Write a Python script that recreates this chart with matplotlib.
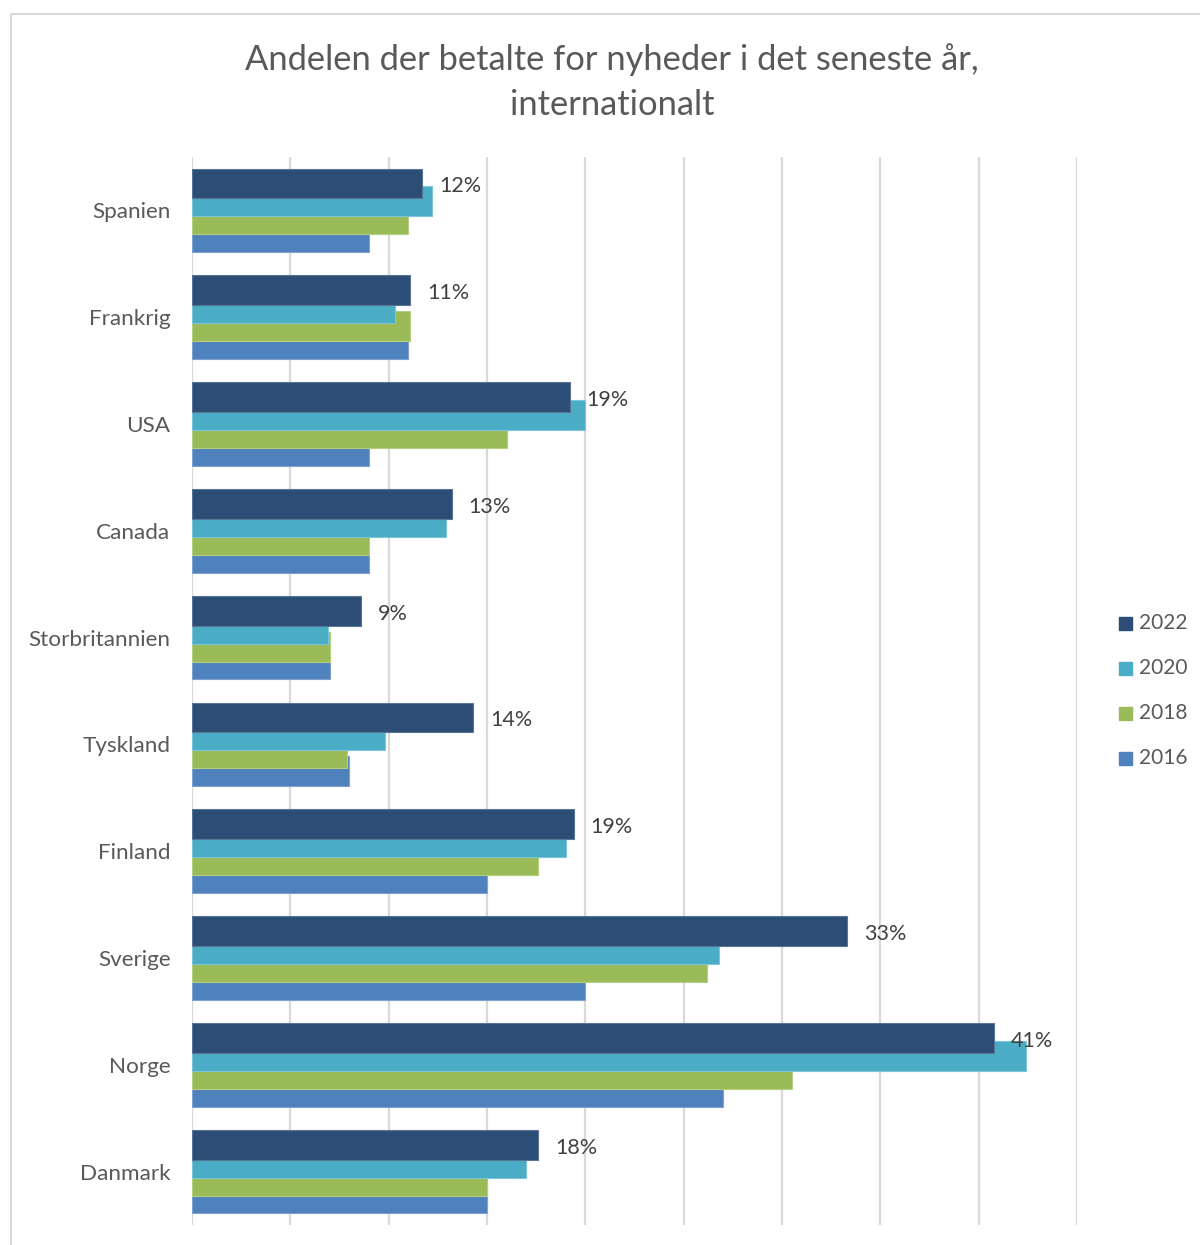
import numpy as np
import matplotlib
matplotlib.use("Agg")
import matplotlib.pyplot as plt
from matplotlib.patches import Rectangle

plt.rcParams['font.family'] = ['Lato', 'DejaVu Sans']

# data (percent), top to bottom
countries = ["Spanien", "Frankrig", "USA", "Canada", "Storbritannien",
             "Tyskland", "Finland", "Sverige", "Norge", "Danmark"]
years = ["2022", "2020", "2018", "2016"]
v2022 = [11.7, 11.1, 19.2, 13.2, 8.6, 14.3, 19.4, 33.3, 40.8, 17.6]
v2020 = [12.2, 10.3, 20.0, 12.9, 6.9, 9.8, 19.0, 26.8, 42.4, 17.0]
v2018 = [11.0, 11.1, 16.0, 9.0, 7.0, 7.9, 17.6, 26.2, 30.5, 15.0]
v2016 = [9.0, 11.0, 9.0, 9.0, 7.0, 8.0, 15.0, 20.0, 27.0, 15.0]
labels2022 = ["12%", "11%", "19%", "13%", "9%", "14%", "19%", "33%", "41%", "18%"]

colors = {"2022": "#2C4D75", "2020": "#4BACC6", "2018": "#9BBB59", "2016": "#4F81BD"}
edges = {"2022": "#5A7496", "2020": "#7CC4D8", "2018": "#B5CF80", "2016": "#7FA3D0"}

W, H = 1200, 1245
fig = plt.figure(figsize=(W / 100, H / 100), dpi=100)

# chart border
fig.patches.append(Rectangle((11 / W, -0.1), 1.2, 1 - 14 / H + 0.1, transform=fig.transFigure,
                             fill=False, edgecolor="#D9D9D9", linewidth=1.5))

ax = fig.add_axes([192 / W, 1 - 1225 / H, (1077 - 192) / W, (1225 - 157) / H])
n = len(countries)
ax.set_xlim(0, 45)
ax.set_ylim(n - 0.5, -0.5)

bar_h = 0.28
step = 0.168
series = [("2016", v2016), ("2018", v2018), ("2020", v2020), ("2022", v2022)]
y = np.arange(n)
# 2016 lowest, 2022 on top (overlapping bars)
for k, (yr, vals) in enumerate(series):
    offset = (1.5 - k) * step
    ax.barh(y + offset, vals, height=bar_h, color=colors[yr], edgecolor=edges[yr],
            linewidth=0.8, zorder=2 + k)

for i in range(n):
    ax.text(v2022[i] + 0.85, y[i] - 1.5 * step + 0.028, labels2022[i], va="center", ha="left",
            fontsize=15.5, color="#404040", zorder=10)

for xv in np.arange(0, 46, 5):
    ax.axvline(xv, color="#D9D9D9", linewidth=1.6, zorder=1)

ax.set_yticks(y)
ax.set_yticklabels(countries, fontsize=16.2, color="#595959")
ax.tick_params(axis="y", length=0, pad=15.5)
ax.set_xticks([])
for s in ax.spines.values():
    s.set_visible(False)

fig.text(0.51, 1 - 60 / H, "Andelen der betalte for nyheder i det seneste år,",
         ha="center", va="center", fontsize=24.8, color="#595959")
fig.text(0.51, 1 - 105 / H, "internationalt",
         ha="center", va="center", fontsize=24.8, color="#595959")

# legend
leg_y = [623, 668, 713, 758]
for yr, ly in zip(years, leg_y):
    fig.patches.append(Rectangle((1119 / W, 1 - (ly + 7) / H), 13 / W, 13 / H,
                                 transform=fig.transFigure, color=colors[yr]))
    fig.text(1139 / W, 1 - ly / H, yr, ha="left", va="center", fontsize=15, color="#595959")

fig.savefig("out.png", dpi=100, facecolor="white")
